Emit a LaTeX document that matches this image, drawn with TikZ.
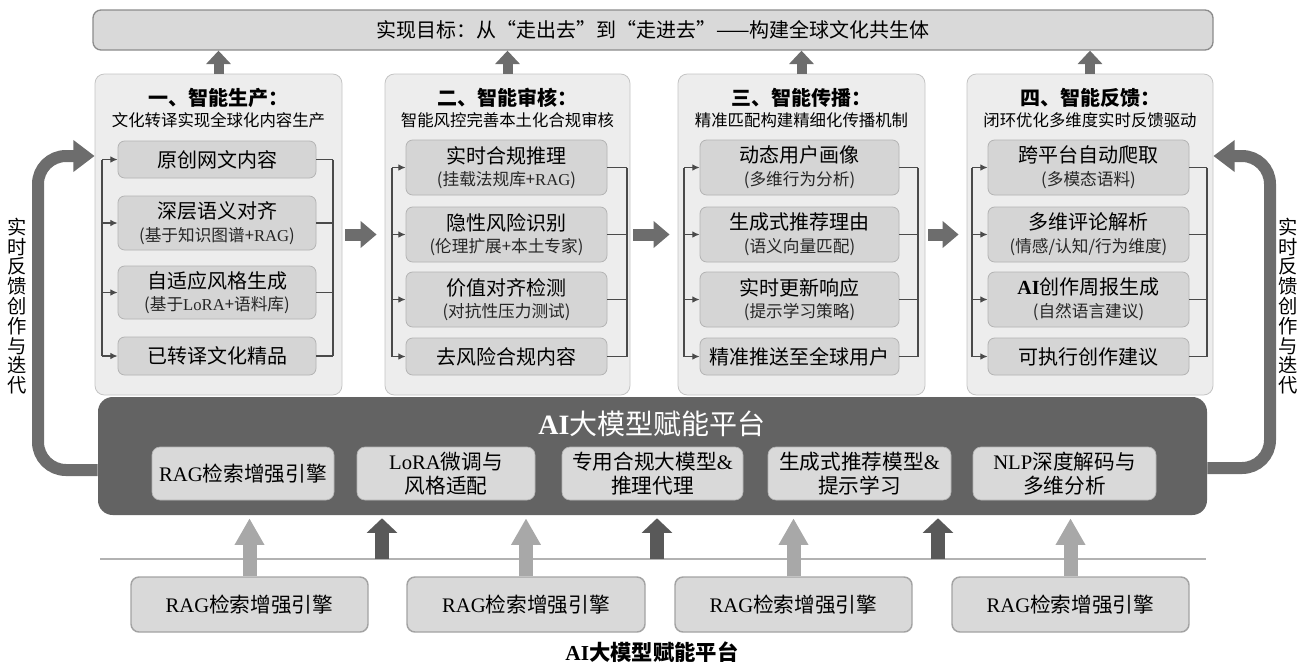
\documentclass[tikz,border=0pt]{standalone}
\usepackage{fontspec}
\setmainfont{Noto Sans CJK SC}
\newfontfamily\lat{Liberation Serif}
\usetikzlibrary{arrows.meta,positioning}

\definecolor{goalfill}{HTML}{D9D9D9}
\definecolor{goalline}{HTML}{8C8C8C}
\definecolor{stagefill}{HTML}{EDEDED}
\definecolor{stageline}{HTML}{C4C4C4}
\definecolor{taskfill}{HTML}{D5D5D5}
\definecolor{taskline}{HTML}{B3B3B3}
\definecolor{platfill}{HTML}{636363}
\definecolor{modfill}{HTML}{D9D9D9}
\definecolor{srcline}{HTML}{A3A3A3}
\definecolor{fatgray}{HTML}{6D6D6D}
\definecolor{lightup}{HTML}{A8A8A8}
\definecolor{darkup}{HTML}{595959}
\definecolor{linkgray}{HTML}{4A4A4A}

\newcommand\tsub[1]{{\fontsize{12.5}{14}\selectfont\color{black!85} #1}}

\tikzset{%
  boxat/.style n args={4}{minimum width={(#3-#1)*0.75pt}, minimum height={(#4-#2)*0.75pt},
    at={({(#1+#3)/2},{(#2+#4)/2})}},
  goalbar/.style={draw=goalline, fill=goalfill, line width=1pt, rounded corners=6pt, inner sep=0pt,
    font=\fontsize{15}{17}\selectfont},
  stage/.style={draw=stageline, fill=stagefill, line width=0.6pt, rounded corners=7pt, inner sep=0pt},
  stagetitle/.style={inner sep=0pt, font=\fontsize{15}{17}\selectfont\bfseries},
  stagesub/.style={inner sep=0pt, font=\fontsize{12.3}{14}\selectfont},
  task/.style={draw=taskline, fill=taskfill, line width=0.6pt, rounded corners=5pt, inner sep=0pt,
    align=center, font=\fontsize{15}{17}\selectfont},
  platform/.style={fill=platfill, rounded corners=11pt, inner sep=0pt},
  module/.style={fill=modfill, draw=taskline, line width=0.5pt, rounded corners=6pt, inner sep=0pt,
    align=center, font=\fontsize{15.5}{17.5}\selectfont},
  source/.style={fill=modfill, draw=srcline, line width=1.1pt, rounded corners=6pt, inner sep=0pt,
    font=\fontsize{15.5}{17.5}\selectfont},
  link/.style={draw=linkgray, line width=0.9pt},
  upfat/.style={draw=fatgray, line width=7.5pt, -{Triangle[width=18pt,length=10pt]}},
  sideflow/.style={draw=fatgray, line width=9pt, -{Triangle[width=19.5pt,length=12pt]},
    shorten <=2.25pt, shorten >=6pt},
  feedback/.style={draw=fatgray, line width=9pt, rounded corners=21pt, -{Triangle[width=23pt,length=16pt]}},
  srcarrow/.style={draw=lightup, line width=10.5pt, -{Triangle[width=21pt,length=20pt]}, shorten >=2.25pt},
  basearrow/.style={draw=darkup, line width=11pt, -{Triangle[width=22.5pt,length=11pt]}, shorten >=2.25pt},
  sidelabel/.style={align=center, inner sep=0pt, font=\fontsize{14.5}{14.85}\selectfont}
}

\begin{document}
\begin{tikzpicture}[x=0.75pt,y=-0.75pt]
\useasboundingbox (0,0) rectangle (1307,668);

% goal
\node[goalbar, boxat={93}{10}{1213}{50}] (goal) {实现目标：从“走出去”到“走进去”——构建全球文化共生体};

% four stages
\node[stage, boxat={95}{74}{342}{395}] (s1) {};
\node[stage, boxat={385}{74}{630}{395}] (s2) {};
\node[stage, boxat={678}{74}{925}{395}] (s3) {};
\node[stage, boxat={967}{74}{1213}{395}] (s4) {};

\node[stagetitle] (s1-t) at (218.5,98) {一、智能生产：};
\node[stagesub] (s1-s) at (218.5,120) {文化转译实现全球化内容生产};
\node[stagetitle] (s2-t) at (507.5,98) {二、智能审核：};
\node[stagesub] (s2-s) at (507.5,120) {智能风控完善本土化合规审核};
\node[stagetitle] (s3-t) at (801.5,98) {三、智能传播：};
\node[stagesub] (s3-s) at (801.5,120) {精准匹配构建精细化传播机制};
\node[stagetitle] (s4-t) at (1090,98) {四、智能反馈：};
\node[stagesub] (s4-s) at (1090,120) {闭环优化多维度实时反馈驱动};

\node[task, boxat={118}{141}{316}{178}] (s1-r1) {原创网文内容};
\node[task, boxat={118}{196}{316}{250}] (s1-r2) {深层语义对齐\\\tsub{(基于知识图谱+{\lat RAG})}};
\node[task, boxat={118}{266}{316}{319}] (s1-r3) {自适应风格生成\\\tsub{(基于{\lat LoRA}+语料库)}};
\node[task, boxat={118}{337}{316}{375}] (s1-r4) {已转译文化精品};

\node[task, boxat={406}{140}{607}{195}] (s2-r1) {实时合规推理\\\tsub{(挂载法规库+{\lat RAG})}};
\node[task, boxat={406}{207}{607}{262}] (s2-r2) {隐性风险识别\\\tsub{(伦理扩展+本土专家)}};
\node[task, boxat={406}{272}{607}{327}] (s2-r3) {价值对齐检测\\\tsub{(对抗性压力测试)}};
\node[task, boxat={406}{338}{607}{375}] (s2-r4) {去风险合规内容};

\node[task, boxat={700}{140}{899}{195}] (s3-r1) {动态用户画像\\\tsub{(多维行为分析)}};
\node[task, boxat={700}{207}{899}{262}] (s3-r2) {生成式推荐理由\\\tsub{(语义向量匹配)}};
\node[task, boxat={700}{272}{899}{327}] (s3-r3) {实时更新响应\\\tsub{(提示学习策略)}};
\node[task, boxat={700}{338}{899}{375}] (s3-r4) {精准推送至全球用户};

\node[task, boxat={988}{140}{1189}{195}] (s4-r1) {跨平台自动爬取\\\tsub{(多模态语料)}};
\node[task, boxat={988}{207}{1189}{262}] (s4-r2) {多维评论解析\\\tsub{(情感/认知/行为维度)}};
\node[task, boxat={988}{272}{1189}{327}] (s4-r3) {{\lat\bfseries AI}创作周报生成\\\tsub{(自然语言建议)}};
\node[task, boxat={988}{338}{1189}{375}] (s4-r4) {可执行创作建议};

% buses inside each stage
\foreach \s/\l/\r in {1/102/333, 2/392/627, 3/684/918, 4/972/1207} {
  \coordinate (bl\s) at (\l,0);
  \coordinate (br\s) at (\r,0);
  \draw[link] (s\s-r1.west -| bl\s) -- (s\s-r4.west -| bl\s);
  \draw[link] (s\s-r1.east -| br\s) -- (s\s-r4.east -| br\s);
  \foreach \k in {1,...,4} {
    \draw[link, -{Latex[length=5.5pt,width=5pt]}] (s\s-r\k.west -| bl\s) -- (s\s-r\k.west);
    \draw[link] (s\s-r\k.east) -- (s\s-r\k.east -| br\s);
  }
}

% stage arrows
\foreach \s in {1,...,4}
  \draw[upfat] (s\s.north) -- (goal.south -| s\s.north);
\foreach \a/\b in {1/2, 2/3, 3/4}
  \draw[sideflow] (s\a.east) -- (s\b.west);

% platform
\node[platform, boxat={98}{397}{1207}{515}] (plat) {};
\node[text=white, inner sep=0pt, font=\fontsize{21}{23}\selectfont] (plat-t) at (652,424) {{\lat\bfseries AI}大模型赋能平台};
\node[module, boxat={152}{447}{334}{500}] (m1) {{\lat RAG}检索增强引擎};
\node[module, boxat={357}{447}{535}{500}] (m2) {{\lat LoRA}微调与\\风格适配};
\node[module, boxat={562}{447}{743}{500}] (m3) {专用合规大模型{\lat\&}\\推理代理};
\node[module, boxat={768}{447}{951}{500}] (m4) {生成式推荐模型{\lat\&}\\提示学习};
\node[module, boxat={973}{447}{1156}{500}] (m5) {{\lat NLP}深度解码与\\多维分析};

% feedback loops
\coordinate (lbot) at (38,470);
\coordinate (ltop) at (38,156);
\coordinate (rbot) at (1270,468);
\coordinate (rtop) at (1270,156);
\draw[feedback] (plat.west |- lbot) -- (lbot) -- (ltop) -- (s1.west |- ltop);
\draw[feedback] (plat.east |- rbot) -- (rbot) -- (rtop) -- (s4.east |- rtop);
\node[sidelabel] (fb-l) at (17,306) {实\\时\\反\\馈\\创\\作\\与\\迭\\代};
\node[sidelabel] (fb-r) at (1288,306) {实\\时\\反\\馈\\创\\作\\与\\迭\\代};

% sources under the platform
\draw[black!30, line width=0.8pt] (100,559) -- (1206,559);
\foreach \i/\a/\b in {1/131/368, 2/407/645, 3/675/912, 4/952/1189} {
  \node[source, boxat={\a}{577}{\b}{632}] (src\i) {{\lat RAG}检索增强引擎};
  \draw[srcarrow] (src\i.north) -- (src\i.north |- plat.south);
}
\foreach \i/\x in {1/382, 2/657, 3/938} {
  \coordinate (base\i) at (\x,559);
  \draw[basearrow] (base\i) -- (base\i |- plat.south);
}
\node[inner sep=0pt, font=\fontsize{16}{18}\selectfont\bfseries] (cap) at (652,652) {{\lat AI}大模型赋能平台};

\end{tikzpicture}
\end{document}
